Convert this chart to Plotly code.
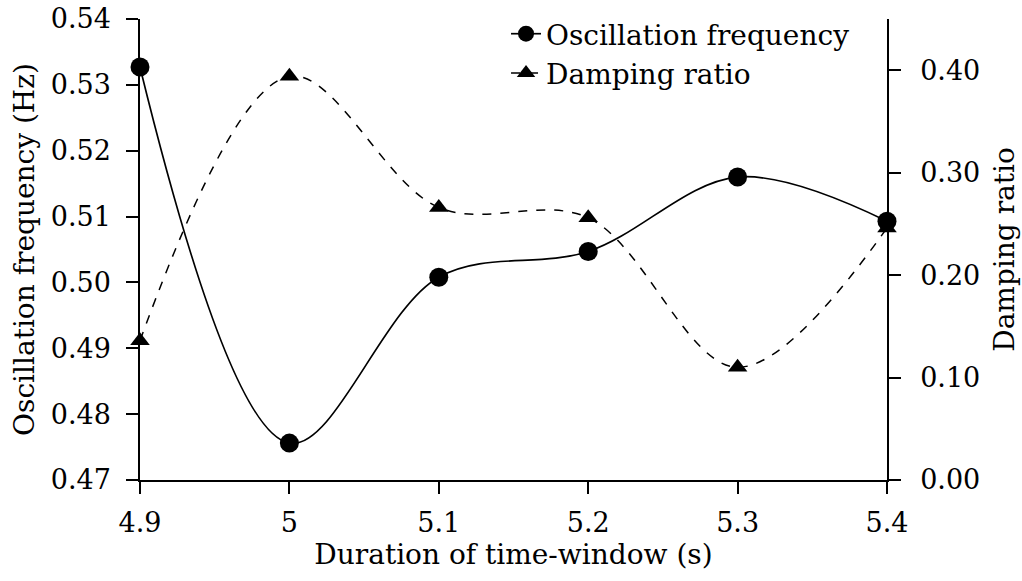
import plotly.graph_objects as go

duration = [4.9, 5.0, 5.1, 5.2, 5.3, 5.4]
osc_freq = [0.5327, 0.4756, 0.5008, 0.5047, 0.5160, 0.5093]
damping = [0.136, 0.394, 0.266, 0.256, 0.110, 0.246]

FONT = "DejaVu Serif"

fig = go.Figure()
fig.add_trace(go.Scatter(
    x=duration, y=osc_freq, name="Oscillation frequency",
    mode="lines+markers", line=dict(color="black", width=1.7, shape="spline"),
    marker=dict(symbol="circle", size=19, color="black"), yaxis="y", cliponaxis=False))
fig.add_trace(go.Scatter(
    x=duration, y=damping, name="Damping ratio",
    mode="lines+markers", line=dict(color="black", width=1.5, shape="spline", dash="dash"),
    marker=dict(symbol="triangle-up", size=17, color="black"), yaxis="y2", cliponaxis=False))

axis_common = dict(showline=True, linecolor="black", linewidth=1.5, ticks="outside",
                   ticklen=12, tickwidth=1.5, tickcolor="black", showgrid=False, zeroline=False,
                   automargin=False)

fig.update_layout(
    width=1022, height=581,
    margin=dict(l=140, r=135, t=19, b=101, autoexpand=False),
    paper_bgcolor="white", plot_bgcolor="white",
    font=dict(family=FONT, size=27, color="black"),
    showlegend=True,
    legend=dict(x=0.49, y=0.9845, xanchor="left", yanchor="top", yref="container",
                bgcolor="rgba(0,0,0,0)", font=dict(size=28), tracegroupgap=0),
    xaxis=dict(range=[4.9, 5.4], tickvals=duration, ticktext=["4.9", "5", "5.1", "5.2", "5.3", "5.4"],
               ticklabelstandoff=6,
               title=dict(text="Duration of time-window (s)", standoff=0, font=dict(size=28)),
               **axis_common),
    yaxis=dict(range=[0.47, 0.54], dtick=0.01, tickformat=".2f", ticklabelstandoff=10,
               title=dict(text="Oscillation frequency (Hz)", standoff=8, font=dict(size=28)),
               **axis_common),
    yaxis2=dict(range=[0, 0.45], tickvals=[0, 0.1, 0.2, 0.3, 0.4], tickformat=".2f",
                overlaying="y", side="right", ticklabelstandoff=14,
                title=dict(text="Damping ratio", standoff=15, font=dict(size=28)),
                **axis_common),
)

fig.write_html("out.html")
